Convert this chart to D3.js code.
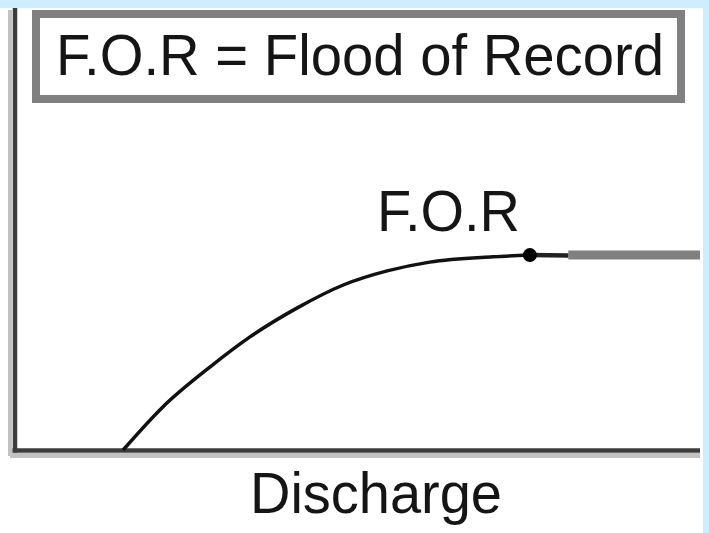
<!DOCTYPE html>
<html>
<head>
<meta charset="utf-8">
<style>
  html, body { margin: 0; padding: 0; background: #cceeff; }
  svg { display: block; }
  .lbl { font-family: "Liberation Sans", Arial, sans-serif; fill: #151515; }
</style>
<script src="https://cdn.jsdelivr.net/npm/d3@7"></script>
</head>
<body>
<svg width="709" height="533"></svg>
<script>
// rating curve (discharge %, stage %)
var discharge = [15.9, 21.7, 28.6, 34.4, 41.3, 48, 54.4, 60.6, 69.8, 75.2];
var stage     = [0, 9.8, 18.9, 25.7, 32.3, 37.5, 40.7, 42.7, 43.9, 44.3];
// flood of record point and the flat extension to the right
var forPoint = [75.2, 44.3];
var extBlack = [[75.2, 44.3], [80.8, 44.2]];
var extGray  = [[80.8, 44.3], [100, 44.3]];
var legendText = "F.O.R = Flood of Record";
var xTitle = "Discharge";

var svg = d3.select("svg");

svg.append("rect")
    .attr("x", 0).attr("y", 8)
    .attr("width", 703).attr("height", 525)
    .attr("fill", "#ffffff");

var x = d3.scaleLinear().domain([0, 100]).range([14, 700]);
var y = d3.scaleLinear().domain([0, 100]).range([450, 10]);

// axes (no ticks), with the light shadow of the original
svg.append("line")
    .attr("x1", 10).attr("x2", 10).attr("y1", 10).attr("y2", 456)
    .attr("stroke", "#c2c2c2").attr("stroke-width", 4);
svg.append("line")
    .attr("x1", 10).attr("x2", 700).attr("y1", 455.5).attr("y2", 455.5)
    .attr("stroke", "#c2c2c2").attr("stroke-width", 5);
svg.append("line")
    .attr("x1", 15).attr("x2", 15).attr("y1", 8).attr("y2", 452.5)
    .attr("stroke", "#3c3c3c").attr("stroke-width", 4.5);
svg.append("line")
    .attr("x1", 12.5).attr("x2", 700).attr("y1", 450.5).attr("y2", 450.5)
    .attr("stroke", "#3c3c3c").attr("stroke-width", 4.5);

// legend box
svg.append("rect")
    .attr("x", 36).attr("y", 14)
    .attr("width", 645).attr("height", 85)
    .attr("fill", "none")
    .attr("stroke", "#808080").attr("stroke-width", 8);

svg.append("text")
    .attr("class", "lbl")
    .attr("x", 56).attr("y", 75)
    .attr("font-size", 58)
    .attr("textLength", 608)
    .attr("lengthAdjust", "spacingAndGlyphs")
    .text(legendText);

var line = d3.line()
    .x(function(d) { return x(d[0]); })
    .y(function(d) { return y(d[1]); });

svg.append("path")
    .datum(extGray)
    .attr("d", line)
    .attr("fill", "none")
    .attr("stroke", "#808080")
    .attr("stroke-width", 9);

svg.append("path")
    .datum(extBlack)
    .attr("d", line)
    .attr("fill", "none")
    .attr("stroke", "#222")
    .attr("stroke-width", 4.5);

var pts = discharge.map(function(d, i) { return [d, stage[i]]; });
svg.append("path")
    .datum(pts)
    .attr("d", line.curve(d3.curveMonotoneX))
    .attr("fill", "none")
    .attr("stroke", "#111")
    .attr("stroke-width", 3.5);

svg.append("circle")
    .attr("cx", x(forPoint[0])).attr("cy", y(forPoint[1]))
    .attr("r", 7)
    .attr("fill", "#000");

svg.append("text")
    .attr("class", "lbl")
    .attr("x", 377).attr("y", 231)
    .attr("font-size", 58)
    .attr("textLength", 143)
    .attr("lengthAdjust", "spacingAndGlyphs")
    .text("F.O.R");

svg.append("text")
    .attr("class", "lbl")
    .attr("x", 250).attr("y", 513)
    .attr("font-size", 57)
    .attr("textLength", 252)
    .attr("lengthAdjust", "spacingAndGlyphs")
    .text(xTitle);
</script>
</body>
</html>
